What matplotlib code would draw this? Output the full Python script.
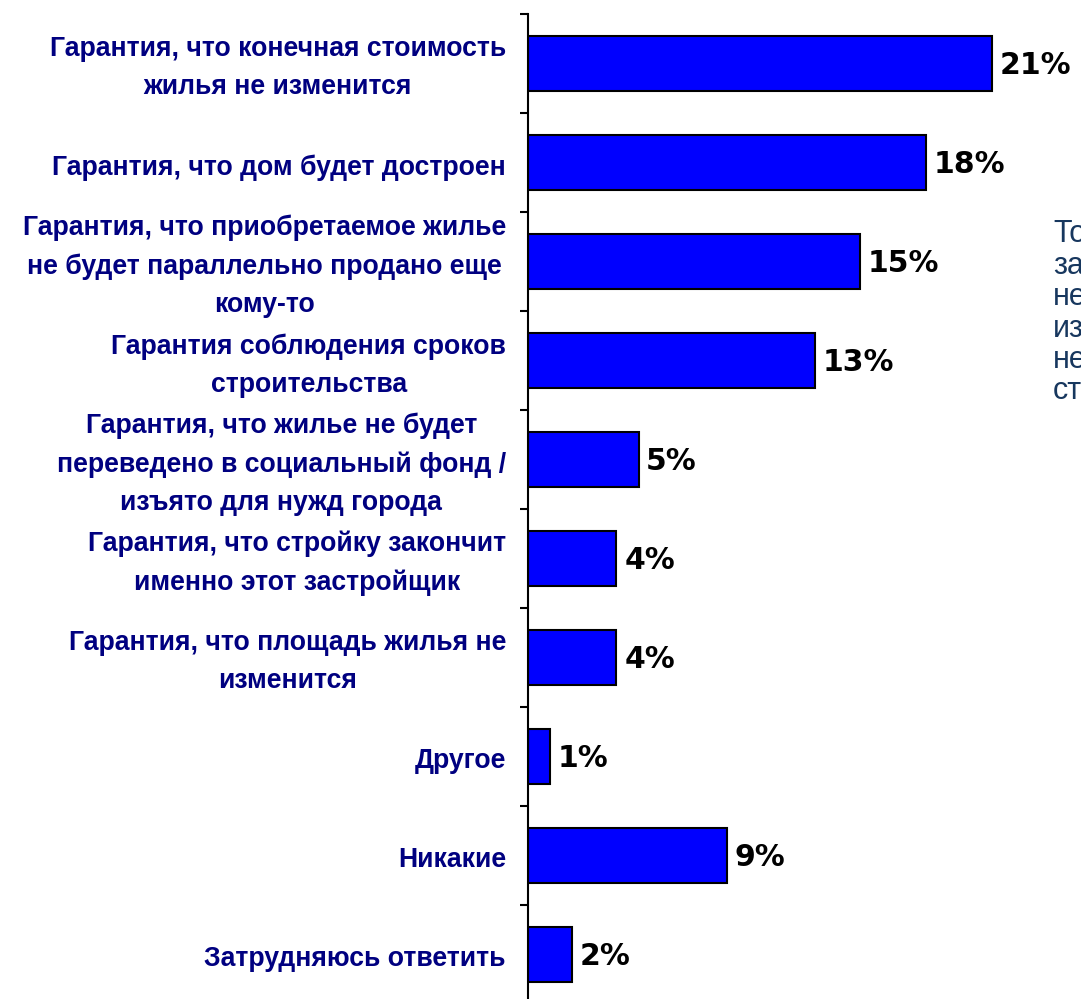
import matplotlib.pyplot as plt
from matplotlib.transforms import ScaledTranslation

categories = [
    "Гарантия, что конечная стоимость\nжилья не изменится",
    "Гарантия, что дом будет достроен",
    "Гарантия, что приобретаемое жилье\nне будет параллельно продано еще\nкому-то",
    "Гарантия соблюдения сроков\nстроительства",
    "Гарантия, что жилье не будет\nпереведено в социальный фонд /\nизъято для нужд города",
    "Гарантия, что стройку закончит\nименно этот застройщик",
    "Гарантия, что площадь жилья не\nизменится",
    "Другое",
    "Никакие",
    "Затрудняюсь ответить",
]
values = [21, 18, 15, 13, 5, 4, 4, 1, 9, 2]

side_note = "Только\nзастройщик\nнесет\nизменения\nне\nстоимости"

plt.rcParams['font.family'] = ['Liberation Sans', 'DejaVu Sans']

fig = plt.figure(figsize=(10.81, 9.99), dpi=100)
ax = fig.add_axes([528 / 1081, -0.005, 553 / 1081, 0.991])

pos = list(range(len(categories)))
ax.barh(pos, values, height=0.55, color="#0000FF", edgecolor="black", linewidth=1.5)

# value labels right of the bars, a touch below the bar middle
down2 = ScaledTranslation(0, -0.02, fig.dpi_scale_trans)
for p, v in zip(pos, values):
    ax.text(v + 0.35, p, f"{v}%", va="center", ha="left",
            fontsize=21.5, fontweight="bold", family="DejaVu Sans", color="black",
            transform=ax.transData + down2)

# category labels: x in axes coords (left of the spine), y in data
lab_tr = ax.get_yaxis_transform() + ScaledTranslation(-0.22, -0.05, fig.dpi_scale_trans)
for p, name in zip(pos, categories):
    ax.text(0, p, name, ha="right", va="center", multialignment="center",
            fontsize=19.2, fontweight="bold", color="#000080", linespacing=1.6,
            transform=lab_tr, clip_on=False)

ax.set_xlim(0, 553 / 22.1)
ax.set_ylim(len(categories) - 0.5, -0.5)

ax.set_yticks([])
ax.set_yticks([p - 0.5 for p in pos] + [len(pos) - 0.5], minor=True)
ax.tick_params(axis="y", which="minor", length=6, width=1.5, direction="out")
ax.set_xticks([])

for s in ["top", "right", "bottom"]:
    ax.spines[s].set_visible(False)
ax.spines["left"].set_linewidth(1.5)

fig.text(1053 / 1081, 1 - 219 / 999, side_note, ha="left", va="top",
         fontsize=22, color="#17375E", linespacing=1.06)

fig.savefig("out.png", dpi=100)
